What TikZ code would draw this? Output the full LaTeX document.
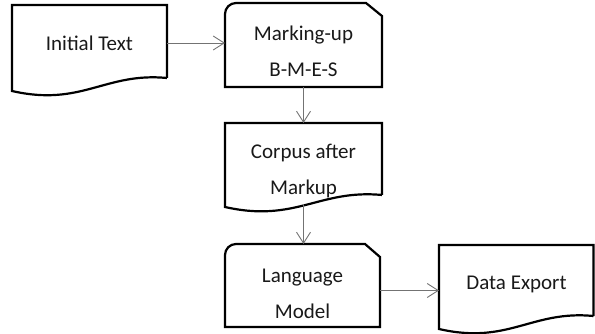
\documentclass[tikz,border=0pt]{standalone}
\usepackage{fontspec}
\setmainfont{Carlito}
\usetikzlibrary{arrows.meta}
\begin{document}
\begin{tikzpicture}[x=1pt,y=-1pt,
  shapebox/.style={draw=black, line width=2.2pt, line join=miter, fill=white},
  anch/.style={inner sep=0pt, outer sep=0pt, draw=none},
  lbl/.style={inner sep=0pt, align=center, font=\fontsize{21}{36}\selectfont, text=black!90},
  conn/.style={draw=black!55, line width=0.9pt, -{Straight Barb[length=11pt,width=14pt]}}]
\useasboundingbox (0,0) rectangle (595,334);
% shapes
\draw[shapebox] (167,78) -- (167,5) -- (12,5) -- (12,91)
  .. controls (81.75,107) and (105,72) .. (167,78);
\draw[shapebox] (225,87) -- (225,14) arc[start angle=180, end angle=90, radius=11pt]
  -- (366,3) -- (382,16) -- (382,87) -- cycle;
\draw[shapebox] (382,195) -- (382,123) -- (225,123) -- (225,207)
  .. controls (295.65,223) and (319.2,189) .. (382,195);
\draw[shapebox] (225,327) -- (225,255) arc[start angle=180, end angle=90, radius=11pt]
  -- (365,244) -- (380,257) -- (380,327) -- cycle;
\draw[shapebox] (593.5,316) -- (593.5,245) -- (439,245) -- (439,329)
  .. controls (508.5,345) and (531.7,310) .. (593.5,316);
% anchor nodes
\node[anch, minimum width=155pt, minimum height=76pt] (init) at (89.5,43) {};
\node[anch, minimum width=157pt, minimum height=84pt] (mark) at (303.5,45) {};
\node[anch, minimum width=157pt, minimum height=81pt] (corpus) at (303.5,163.5) {};
\node[anch, minimum width=155pt, minimum height=83pt] (lang) at (302.5,285.5) {};
\node[anch, minimum width=154.5pt, minimum height=84pt] (data) at (516.25,287) {};
% labels
\node[lbl] (initT) at (89.5,43) {Initial Text};
\node[lbl] (markT) at (303.5,51.7) {Marking-up\\B-M-E-S};
\node[lbl] (corpusT) at (303.5,170.7) {Corpus after\\Markup};
\node[lbl] (langT) at (302.5,294.3) {Language\\Model};
\node[lbl] (dataT) at (516.5,284) {Data Export};
% connectors
\draw[conn] (init.east) -- (init.east -| mark.west);
\draw[conn] (mark.south) -- (mark.south |- corpus.north);
\draw[conn] (corpus.south) -- (corpus.south |- lang.north);
\draw[conn] ([yshift=-5pt]lang.east) -- ([yshift=-5pt]lang.east -| data.west);
\end{tikzpicture}
\end{document}
